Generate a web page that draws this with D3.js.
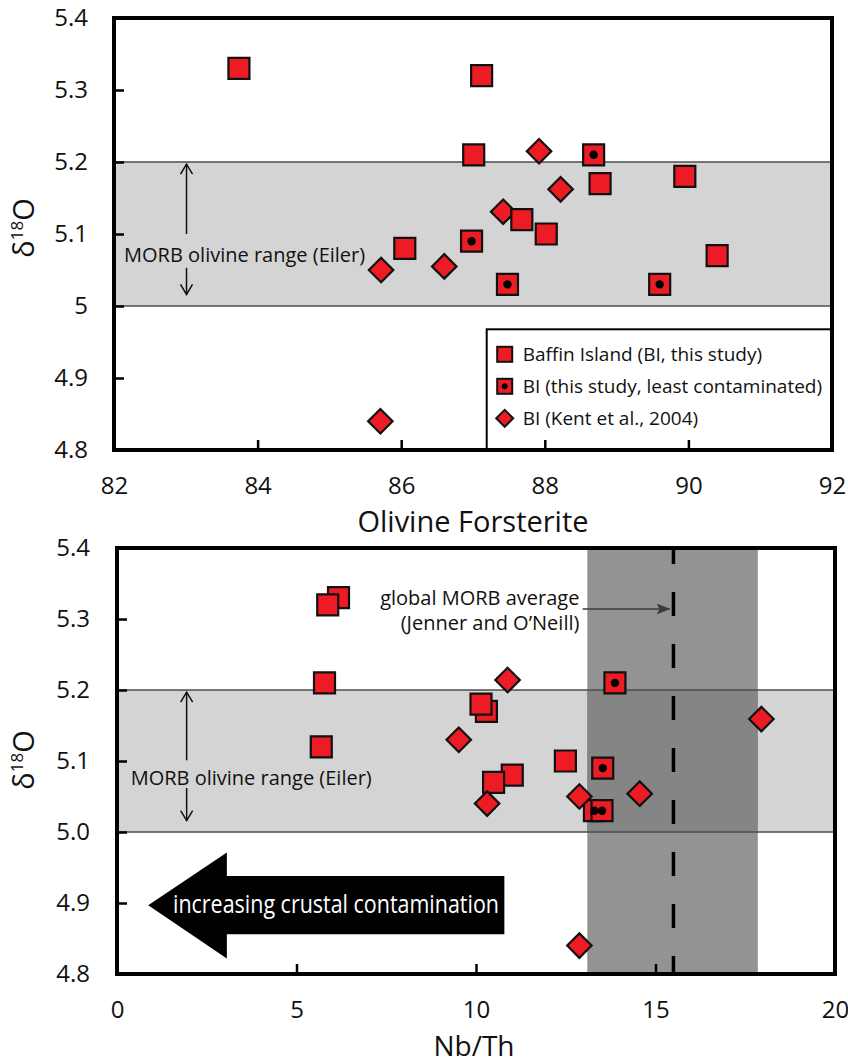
<!DOCTYPE html>
<html>
<head>
<meta charset="utf-8">
<script src="https://cdn.jsdelivr.net/npm/d3@7"></script>
<style>
  body { margin: 0; background: #fff; }
  text { font-family: "Open Sans", sans-serif; fill: #111; }
</style>
</head>
<body>
<svg id="fig" width="848" height="1064"></svg>
<script>
// ---- data: upper panel (olivine Fo vs d18O)
const baffinFo = [83.74, 87.12, 87.01, 88.77, 89.95, 87.68, 88.02, 90.40, 86.05];
const baffinD18O = [5.33, 5.32, 5.21, 5.17, 5.18, 5.12, 5.10, 5.07, 5.08];
const leastFo = [88.68, 86.98, 87.48, 89.60];
const leastD18O = [5.21, 5.09, 5.03, 5.03];
const kentFo = [87.92, 88.22, 87.42, 86.60, 85.72, 85.71];
const kentD18O = [5.215, 5.162, 5.131, 5.055, 5.05, 4.84];

// ---- data: lower panel (Nb/Th vs d18O)
const baffinNbTh = [6.17, 5.87, 5.78, 5.69, 10.29, 10.14, 12.49, 11.01, 10.49];
const baffinD18Ob = [5.33, 5.32, 5.21, 5.12, 5.17, 5.18, 5.10, 5.08, 5.07];
const leastNbTh = [13.87, 13.53, 13.30, 13.51];
const leastD18Ob = [5.21, 5.09, 5.03, 5.03];
const kentNbTh = [10.88, 9.52, 10.31, 12.88, 14.56, 17.95, 12.88];
const kentD18Ob = [5.214, 5.13, 5.04, 5.05, 5.054, 5.159, 4.84];

// reference ranges
const morbD18O = [5.0, 5.2];
const morbNbTh = [13.1, 17.85];
const morbNbThAvg = 15.5;

// ticks
const yTicks = [4.8, 4.9, 5.0, 5.1, 5.2, 5.3, 5.4];
const foTicks = [82, 84, 86, 88, 90, 92];
const nbThTicks = [0, 5, 10, 15, 20];
const legendLabels = ["Baffin Island (BI, this study)", "BI (this study, least contaminated)", "BI (Kent et al., 2004)"];

const svg = d3.select("#fig");
const red = "#ed1c24";
const bandFill = "#d4d4d4";
const bandLine = "#4d4d4d";
const noteSize = 20;

const defs = svg.append("defs");
defs.append("marker")
    .attr("id", "openHead")
    .attr("viewBox", "-12 -8 14 16")
    .attr("refX", 0).attr("refY", 0)
    .attr("markerWidth", 14).attr("markerHeight", 16)
    .attr("markerUnits", "userSpaceOnUse")
    .attr("orient", "auto")
    .append("path")
    .attr("d", "M-10,-6 L0,0 L-10,6")
    .attr("fill", "none").attr("stroke", "#111").attr("stroke-width", 1.5);
defs.append("marker")
    .attr("id", "solidHead")
    .attr("viewBox", "0 -6 14 12")
    .attr("refX", 13).attr("refY", 0)
    .attr("markerWidth", 14).attr("markerHeight", 12)
    .attr("markerUnits", "userSpaceOnUse")
    .attr("orient", "auto")
    .append("path")
    .attr("d", "M0,-5.5 L14,0 L0,5.5 L3,0 Z")
    .attr("fill", "#3a3a3a");

const square = d3.symbol(d3.symbolSquare, 441);
const diamond = d3.symbol(d3.symbolSquare, 300);

function drawSquares(g, x, y, xs, ys) {
    g.selectAll(null)
        .data(d3.zip(xs, ys))
        .enter()
        .append("path")
        .attr("d", square)
        .attr("transform", d => `translate(${x(d[0])},${y(d[1])})`)
        .attr("fill", red).attr("stroke", "#111").attr("stroke-width", 2.2);
}

function drawDots(g, x, y, xs, ys) {
    g.selectAll(null)
        .data(d3.zip(xs, ys))
        .enter()
        .append("circle")
        .attr("cx", d => x(d[0])).attr("cy", d => y(d[1]))
        .attr("r", 4.2).attr("fill", "#000");
}

function drawDiamonds(g, x, y, xs, ys) {
    g.selectAll(null)
        .data(d3.zip(xs, ys))
        .enter()
        .append("path")
        .attr("d", diamond)
        .attr("transform", d => `translate(${x(d[0])},${y(d[1])}) rotate(45)`)
        .attr("fill", red).attr("stroke", "#111").attr("stroke-width", 2.2);
}

function drawAxes(g, box, x, y, xTicks, yFormat, xFormat) {
    const inner = v => v > y.domain()[0] && v < y.domain()[1];
    const innerX = v => v > x.domain()[0] && v < x.domain()[1];

    // inward tick marks
    g.append("g")
        .attr("transform", `translate(${box.left},0)`)
        .call(d3.axisLeft(y).tickValues(yTicks.filter(inner)).tickSize(-10).tickFormat(""))
        .call(a => a.select(".domain").remove())
        .call(a => a.selectAll("line").attr("stroke", "#000").attr("stroke-width", 2.5));
    g.append("g")
        .attr("transform", `translate(0,${box.bottom})`)
        .call(d3.axisBottom(x).tickValues(xTicks.filter(innerX)).tickSize(-10).tickFormat(""))
        .call(a => a.select(".domain").remove())
        .call(a => a.selectAll("line").attr("stroke", "#000").attr("stroke-width", 2.5));

    // tick labels
    g.append("g")
        .attr("transform", `translate(${box.left},0)`)
        .call(d3.axisLeft(y).tickValues(yTicks).tickSize(0).tickPadding(box.yPad).tickFormat(yFormat))
        .attr("font-size", 24)
        .call(a => a.select(".domain").remove());
    g.append("g")
        .attr("transform", `translate(0,${box.bottom})`)
        .call(d3.axisBottom(x).tickValues(xTicks).tickSize(0).tickPadding(27).tickFormat(xFormat))
        .attr("font-size", 24)
        .call(a => a.select(".domain").remove());

    // frame
    g.append("rect")
        .attr("x", box.left).attr("y", box.top)
        .attr("width", box.right - box.left).attr("height", box.bottom - box.top)
        .attr("fill", "none").attr("stroke", "#000").attr("stroke-width", 4);
}

function yTitle(g, cx, cy) {
    const t = g.append("text")
        .attr("transform", `translate(${cx},${cy}) rotate(-90)`)
        .attr("text-anchor", "middle")
        .attr("font-size", 29);
    t.append("tspan").text("δ");
    t.append("tspan").attr("font-size", 17).attr("dy", -11).text("18");
    t.append("tspan").attr("dy", 11).text("O");
}

function rangeArrows(g, x, y, xv, upFrom, upTo, downFrom, downTo) {
    g.append("line")
        .attr("x1", x(xv)).attr("x2", x(xv))
        .attr("y1", y(upFrom)).attr("y2", y(upTo))
        .attr("stroke", "#111").attr("stroke-width", 1.5)
        .attr("marker-end", "url(#openHead)");
    g.append("line")
        .attr("x1", x(xv)).attr("x2", x(xv))
        .attr("y1", y(downFrom)).attr("y2", y(downTo))
        .attr("stroke", "#111").attr("stroke-width", 1.5)
        .attr("marker-end", "url(#openHead)");
}

// ================= upper panel =================
const boxTop = { left: 114, right: 832, top: 18, bottom: 450, yPad: 26 };
const xFo = d3.scaleLinear().domain([82, 92]).range([boxTop.left, boxTop.right]);
const yTop = d3.scaleLinear().domain([4.8, 5.4]).range([boxTop.bottom, boxTop.top]);
const gTop = svg.append("g");

gTop.append("rect")
    .attr("x", boxTop.left).attr("width", boxTop.right - boxTop.left)
    .attr("y", yTop(morbD18O[1])).attr("height", yTop(morbD18O[0]) - yTop(morbD18O[1]))
    .attr("fill", bandFill);
gTop.selectAll(null).data(morbD18O).enter().append("line")
    .attr("x1", boxTop.left).attr("x2", boxTop.right)
    .attr("y1", d => yTop(d)).attr("y2", d => yTop(d))
    .attr("stroke", bandLine).attr("stroke-width", 1.6);

gTop.append("text")
    .attr("x", xFo(82.14)).attr("y", yTop(5.061))
    .attr("font-size", noteSize)
    .text("MORB olivine range (Eiler)");
rangeArrows(gTop, xFo, yTop, 83.01, 5.1, 5.197, 5.053, 5.016);

drawDiamonds(gTop, xFo, yTop, kentFo, kentD18O);
drawSquares(gTop, xFo, yTop, baffinFo, baffinD18O);
drawSquares(gTop, xFo, yTop, leastFo, leastD18O);
drawDots(gTop, xFo, yTop, leastFo, leastD18O);

// legend
const legend = gTop.append("g").attr("transform", "translate(486.7,329.3)");
legend.append("rect")
    .attr("width", boxTop.right - 486.7).attr("height", boxTop.bottom - 329.3)
    .attr("fill", "#fff").attr("stroke", "#000").attr("stroke-width", 2);
const rows = legend.selectAll(".legend")
    .data(legendLabels)
    .enter()
    .append("g")
    .attr("class", "legend")
    .attr("transform", (d, i) => `translate(18,${25 + i * 32})`);
rows.filter((d, i) => i < 2).append("rect")
    .attr("x", -7.5).attr("y", -7.5).attr("width", 15).attr("height", 15)
    .attr("fill", red).attr("stroke", "#111").attr("stroke-width", 2);
rows.filter((d, i) => i === 1).append("circle").attr("r", 3).attr("fill", "#000");
rows.filter((d, i) => i === 2).append("rect")
    .attr("x", -6).attr("y", -6).attr("width", 12).attr("height", 12)
    .attr("transform", "rotate(45)")
    .attr("fill", red).attr("stroke", "#111").attr("stroke-width", 2);
rows.append("text")
    .attr("x", 18).attr("y", 7)
    .attr("font-size", 19)
    .text(d => d);

drawAxes(gTop, boxTop, xFo, yTop, foTicks, d => d === 5 ? "5" : d3.format(".1f")(d), d3.format("d"));
yTitle(gTop, 34, 228);
gTop.append("text")
    .attr("x", (boxTop.left + boxTop.right) / 2).attr("y", 532)
    .attr("text-anchor", "middle").attr("font-size", 29)
    .text("Olivine Forsterite");

// ================= lower panel =================
const boxBot = { left: 117, right: 835, top: 548, bottom: 974, yPad: 27 };
const xNb = d3.scaleLinear().domain([0, 20]).range([boxBot.left, boxBot.right]);
const yBot = d3.scaleLinear().domain([4.8, 5.4]).range([boxBot.bottom, boxBot.top]);
const gBot = svg.append("g");

gBot.append("rect")
    .attr("x", boxBot.left).attr("width", boxBot.right - boxBot.left)
    .attr("y", yBot(morbD18O[1])).attr("height", yBot(morbD18O[0]) - yBot(morbD18O[1]))
    .attr("fill", bandFill);
gBot.append("rect")
    .attr("x", xNb(morbNbTh[0])).attr("width", xNb(morbNbTh[1]) - xNb(morbNbTh[0]))
    .attr("y", boxBot.top).attr("height", boxBot.bottom - boxBot.top)
    .attr("fill", "#939393");
gBot.append("rect")
    .attr("x", xNb(morbNbTh[0])).attr("width", xNb(morbNbTh[1]) - xNb(morbNbTh[0]))
    .attr("y", yBot(morbD18O[1])).attr("height", yBot(morbD18O[0]) - yBot(morbD18O[1]))
    .attr("fill", "#858585");
gBot.selectAll(null).data(morbD18O).enter().append("line")
    .attr("x1", boxBot.left).attr("x2", boxBot.right)
    .attr("y1", d => yBot(d)).attr("y2", d => yBot(d))
    .attr("stroke", bandLine).attr("stroke-width", 1.6);

// global MORB average
gBot.append("line")
    .attr("x1", xNb(morbNbThAvg)).attr("x2", xNb(morbNbThAvg))
    .attr("y1", boxBot.top).attr("y2", boxBot.bottom)
    .attr("stroke", "#000").attr("stroke-width", 3.5)
    .attr("stroke-dasharray", "24,28").attr("stroke-dashoffset", 8);
gBot.append("text")
    .attr("x", xNb(12.88)).attr("y", yBot(5.32))
    .attr("text-anchor", "end").attr("font-size", noteSize)
    .text("global MORB average");
gBot.append("text")
    .attr("x", xNb(12.88)).attr("y", yBot(5.285))
    .attr("text-anchor", "end").attr("font-size", noteSize)
    .text("(Jenner and O’Neill)");
gBot.append("line")
    .attr("x1", xNb(12.97)).attr("x2", xNb(15.39))
    .attr("y1", yBot(5.314)).attr("y2", yBot(5.314))
    .attr("stroke", "#3a3a3a").attr("stroke-width", 1.5)
    .attr("marker-end", "url(#solidHead)");

gBot.append("text")
    .attr("x", xNb(0.38)).attr("y", yBot(5.066))
    .attr("font-size", noteSize)
    .text("MORB olivine range (Eiler)");
rangeArrows(gBot, xNb, yBot, 1.94, 5.101, 5.197, 5.062, 5.016);

// crustal contamination arrow
const arrowPts = [[0.87, 4.897], [3.06, 4.971], [3.06, 4.938], [10.79, 4.938],
                  [10.79, 4.856], [3.06, 4.856], [3.06, 4.822]];
gBot.append("path")
    .attr("d", d3.line().x(d => xNb(d[0])).y(d => yBot(d[1]))(arrowPts) + "Z")
    .attr("fill", "#000");
gBot.append("text")
    .attr("x", xNb(1.56)).attr("y", yBot(4.886))
    .attr("font-size", 26)
    .attr("textLength", 326).attr("lengthAdjust", "spacingAndGlyphs")
    .style("fill", "#fff")
    .text("increasing crustal contamination");

drawSquares(gBot, xNb, yBot, baffinNbTh, baffinD18Ob);
drawSquares(gBot, xNb, yBot, leastNbTh, leastD18Ob);
drawDots(gBot, xNb, yBot, leastNbTh, leastD18Ob);
drawDiamonds(gBot, xNb, yBot, kentNbTh, kentD18Ob);

drawAxes(gBot, boxBot, xNb, yBot, nbThTicks, d3.format(".1f"), d3.format("d"));
yTitle(gBot, 34, 760);
gBot.append("text")
    .attr("x", 474).attr("y", 1056)
    .attr("text-anchor", "middle").attr("font-size", 28)
    .text("Nb/Th");
</script>
</body>
</html>
